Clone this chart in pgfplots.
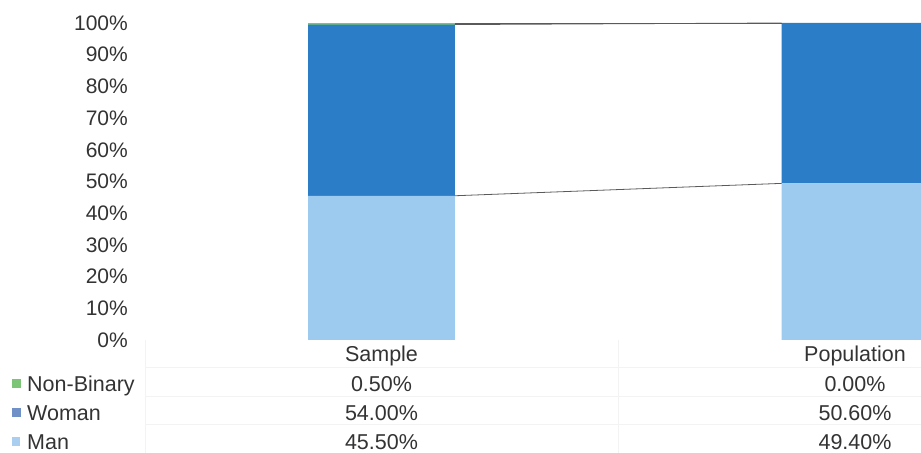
\documentclass[border=0pt]{standalone}
\usepackage{pgfplots}
\pgfplotsset{compat=1.18}
\usepackage{fontspec}
\setmainfont{Liberation Sans}

\definecolor{manblue}{HTML}{9DCBF0}
\definecolor{womanblue}{HTML}{2A7DC6}
\definecolor{nbgreen}{HTML}{7CC576}
\definecolor{womankey}{HTML}{7091C8}
\definecolor{mankey}{HTML}{A9CEEF}
\definecolor{txt}{HTML}{333333}
\definecolor{seriesline}{HTML}{5A5A5A}
\definecolor{tablegrid}{HTML}{F3F3F3}

% shared geometry of the plot area
\pgfplotsset{
  plotarea/.style={
    at={(144.75bp,113bp)}, anchor=south west,
    scale only axis, width=776.25bp, height=317bp,
    xmin=-0.5, xmax=1.1394, ymin=0, ymax=100,
    clip=false,
  },
}
\tikzset{cell/.style={anchor=base, inner sep=0pt, text=txt}}

\begin{document}
\fontsize{21.5bp}{25bp}\selectfont
\begin{tikzpicture}[x=1bp,y=1bp]
\path[use as bounding box] (0,0) rectangle (921,453);
\clip (0,0) rectangle (921,453);

% faint data-table rules
\draw[tablegrid, line width=0.6bp] (145,0) -- (145,113) (618,0) -- (618,113);
\draw[tablegrid, line width=0.6bp] (145,86) -- (921,86) (145,57) -- (921,57) (145,29) -- (921,29);

\begin{axis}[
  plotarea,
  ybar stacked, bar width=0.31,
  axis line style={draw=none}, tick style={draw=none},
  major tick length=0pt,
  xtick=\empty,
  ytick={0,10,...,100},
  yticklabel={\pgfmathprintnumber{\tick}\%},
  /pgf/number format/assume math mode=true,
  yticklabel style={anchor=east, inner sep=0pt, xshift=-16.75bp, text=txt, font=\fontsize{21bp}{25bp}\selectfont},
]
\addplot[fill=manblue, draw=none] coordinates {(0,45.5) (1,49.4)};
\addplot[fill=womanblue, draw=none] coordinates {(0,54.0) (1,50.6)};
\addplot[fill=nbgreen, draw=none] coordinates {(0,0.5) (1,0.0)};

% data table beneath the bars
\node[cell] at ([yshift=-22bp]axis cs:0,0) {Sample};
\node[cell] at ([yshift=-22bp]axis cs:1,0) {Population};
\node[cell] at ([yshift=-52bp]axis cs:0,0) {0.50\%};
\node[cell] at ([yshift=-52bp]axis cs:1,0) {0.00\%};
\node[cell] at ([yshift=-81bp]axis cs:0,0) {54.00\%};
\node[cell] at ([yshift=-81bp]axis cs:1,0) {50.60\%};
\node[cell] at ([yshift=-110bp]axis cs:0,0) {45.50\%};
\node[cell] at ([yshift=-110bp]axis cs:1,0) {49.40\%};
\end{axis}

% series lines joining the segment tops of the two columns
\begin{axis}[plotarea, hide axis]
\addplot[seriesline, line width=0.8bp, no marks] coordinates {(0.1552,45.5) (0.8448,49.4)};
\addplot[seriesline, line width=0.8bp, no marks] coordinates {(0.1552,99.5) (0.8448,100)};
\addplot[seriesline, line width=0.8bp, no marks] coordinates {(0.1552,100) (0.8448,100)};
\end{axis}

% legend keys of the data table
\fill[nbgreen] (12,65) rectangle (21,74);
\fill[womankey] (12,36) rectangle (21,45);
\fill[mankey] (12,7) rectangle (20,16);
\node[anchor=base west, inner sep=0pt, text=txt] at (27,61) {Non-Binary};
\node[anchor=base west, inner sep=0pt, text=txt] at (27,32) {Woman};
\node[anchor=base west, inner sep=0pt, text=txt] at (27,3) {Man};
\end{tikzpicture}
\end{document}
